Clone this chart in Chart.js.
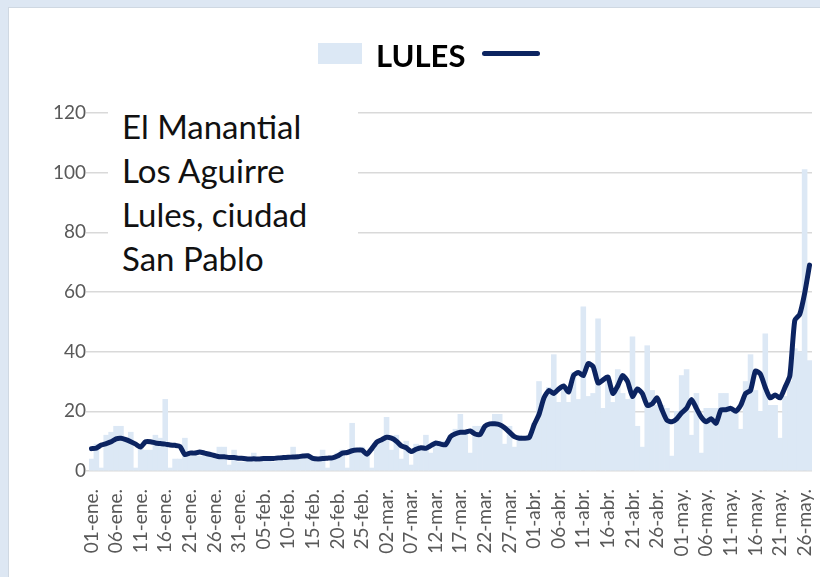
<!DOCTYPE html>
<html lang="es">
<head>
    <meta charset="UTF-8">
    <title>LULES</title>
    <script src="https://cdn.jsdelivr.net/npm/chart.js"></script>
    <style>
        html, body {
            margin: 0;
            padding: 0;
            width: 820px;
            height: 577px;
            overflow: hidden;
            background: #dde7f3;
            font-family: Lato, "Noto Sans", sans-serif;
        }
        .card {
            position: absolute;
            left: 8px;
            top: 7px;
            width: 830px;
            height: 590px;
            background: #fff;
            border: 1px solid #cfd8e2;
        }
        .wrap {
            position: absolute;
            left: 0;
            top: 0;
            width: 820px;
            height: 577px;
        }
        .legend-box {
            position: absolute;
            left: 318px;
            top: 43px;
            width: 44px;
            height: 21px;
            background: #dce8f5;
        }
        .legend-text {
            position: absolute;
            left: 376px;
            top: 36px;
            font-size: 31px;
            font-weight: bold;
            color: #000;
            line-height: 38px;
        }
        .legend-line {
            position: absolute;
            left: 482px;
            top: 51px;
            width: 58px;
            height: 5px;
            border-radius: 3px;
            background: #0c2461;
        }
        .note {
            position: absolute;
            left: 108px;
            top: 104px;
            width: 236px;
            padding-left: 14px;
            background: #fff;
            font-size: 33px;
            line-height: 44px;
            color: #111;
        }
    </style>
</head>
<body>
    <div class="card"></div>
    <div class="wrap"><canvas id="chart" width="820" height="577"></canvas></div>
    <div class="legend-box"></div>
    <div class="legend-text">LULES</div>
    <div class="legend-line"></div>
    <div class="note">El Manantial<br>Los Aguirre<br>Lules, ciudad<br>San Pablo</div>

    <script>
        // categories: daily, 01-ene to 27-may
        const monthNames = ["ene.", "feb.", "mar.", "abr.", "may."];
        const monthDays = [31, 28, 31, 30, 27];

        // daily cases (bars), one array per month
        const casesJan = [4, 9, 1, 12, 13, 15, 15, 10, 13, 1, 8, 7, 7, 12, 11, 24, 1, 4, 4, 11, 5, 6, 5, 5, 5, 5, 8, 8, 2, 7, 3];
        const casesFeb = [3, 4, 6, 3, 4, 4, 3, 5, 4, 5, 8, 5, 5, 5, 4, 3, 7, 1, 5, 6, 7, 1, 16, 6, 8, 6, 1, 10];
        const casesMar = [10, 18, 7, 12, 4, 10, 2, 9, 8, 12, 6, 9, 10, 10, 12, 14, 19, 13, 6, 15, 15, 14, 16, 19, 19, 9, 15, 8, 12, 10, 12];
        const casesApr = [16, 30, 24, 28, 39, 23, 28, 23, 33, 24, 55, 25, 26, 51, 21, 32, 23, 34, 26, 24, 45, 15, 8, 42, 27, 22, 22, 21, 5, 20];
        const casesMay = [32, 34, 12, 26, 6, 21, 21, 21, 26, 26, 20, 20, 14, 30, 39, 27, 20, 46, 22, 22, 11, 25, 30, 41, 40, 101, 37];

        // average line
        const avgJan = [7.5, 7.7, 8.7, 9.2, 9.8, 10.8, 11, 10.5, 9.8, 9, 8, 9.8, 9.8, 9.4, 9.2, 9, 8.7, 8.6, 8.2, 5.5, 6, 6, 6.4, 6, 5.6, 5.2, 4.8, 4.8, 4.5, 4.5, 4.3];
        const avgFeb = [4.2, 4, 4.1, 4, 4.2, 4.2, 4.2, 4.4, 4.5, 4.6, 4.7, 4.8, 5, 5.1, 4.2, 4, 4.2, 4.3, 4.4, 5, 6, 6.2, 6.8, 7, 7, 5.6, 7.5, 9.7];
        const avgMar = [10.5, 11.3, 11, 10, 8.4, 7.8, 6.5, 7.3, 7.8, 7.6, 8.5, 9.4, 9, 8.8, 11.5, 12.5, 13, 13, 13.4, 12.4, 12.2, 15, 15.8, 15.8, 15.5, 14.5, 13, 11.5, 11, 11, 11.2];
        const avgApr = [15.5, 19, 24.5, 27, 26, 27.5, 28.5, 26.5, 32, 33, 32, 36, 35, 29.5, 30.5, 31.5, 26, 28.5, 32, 30, 25, 27.5, 26, 22, 22.5, 24.5, 20.5, 17, 16.5, 17.5];
        const avgMay = [19.5, 21, 24, 21, 18, 16.5, 17.5, 16, 20.5, 20.5, 21, 20, 22, 26, 27, 33.5, 32.5, 28, 24.5, 25.5, 24.5, 28, 32, 50.5, 52.5, 59.5, 69];

        const yTicks = [0, 20, 40, 60, 80, 100, 120];
    </script>

    <script>
        const labels = [];
        monthNames.forEach((m, k) => {
            for (let d = 1; d <= monthDays[k]; d++) {
                labels.push(String(d).padStart(2, "0") + "-" + m);
            }
        });

        const cases = [].concat(casesJan, casesFeb, casesMar, casesApr, casesMay);
        const avg = [].concat(avgJan, avgFeb, avgMar, avgApr, avgMay);

        const tickColor = "#595959";
        const gridColor = "#d9d9d9";

        const config = {
            data: {
                labels: labels,
                datasets: [
                    {
                        type: "line",
                        label: "promedio",
                        data: avg,
                        borderColor: "#0c2461",
                        borderWidth: 5,
                        pointRadius: 0,
                        tension: 0.2,
                        borderJoinStyle: "round",
                        borderCapStyle: "round",
                        order: 1
                    },
                    {
                        type: "bar",
                        label: "LULES",
                        data: cases,
                        backgroundColor: "#dce8f5",
                        borderWidth: 0,
                        barPercentage: 1,
                        categoryPercentage: 1,
                        order: 2
                    }
                ]
            },
            options: {
                responsive: false,
                animation: false,
                layout: {
                    padding: { top: 113, right: 8, left: 0, bottom: 0 }
                },
                plugins: {
                    legend: { display: false },
                    tooltip: { enabled: false }
                },
                scales: {
                    x: {
                        grid: { display: false },
                        border: { display: false },
                        afterFit: (scale) => {
                            scale.height = 106;
                            scale.paddingLeft = 0;
                            scale.paddingRight = 0;
                        },
                        ticks: {
                            autoSkip: false,
                            maxRotation: 90,
                            minRotation: 90,
                            padding: 10,
                            color: tickColor,
                            font: { family: "Lato", size: 19 },
                            callback: (val, idx) => idx % 5 === 0 ? labels[idx] : ""
                        }
                    },
                    y: {
                        min: 0,
                        max: 120,
                        afterFit: (scale) => { scale.width = 89; },
                        afterBuildTicks: (scale) => { scale.ticks = yTicks.map(v => ({ value: v })); },
                        grid: { color: gridColor, lineWidth: 1.5, tickLength: 3 },
                        border: { display: false },
                        ticks: {
                            padding: 0,
                            color: tickColor,
                            font: { family: "Lato", size: 19 }
                        }
                    }
                }
            }
        };

        new Chart(document.getElementById("chart"), config);
    </script>
</body>
</html>
